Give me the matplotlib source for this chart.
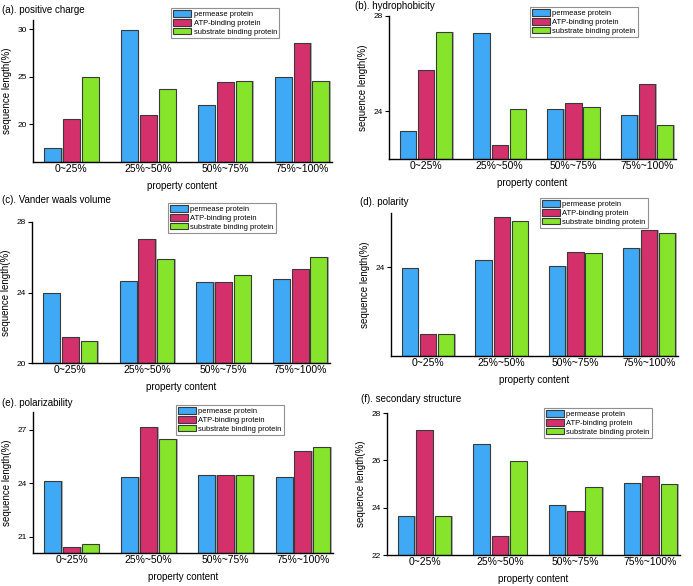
import numpy as np
import matplotlib
matplotlib.use('Agg')
import matplotlib.pyplot as plt

plt.rcParams['font.family'] = ['Liberation Sans', 'DejaVu Sans']

categories = ['0~25%', '25%~50%', '50%~75%', '75%~100%']
series_names = ['permease protein', 'ATP-binding protein', 'substrate binding protein']
colors = ['#3FA9F5', '#D4306C', '#86E52A']

titles = ['(a). positive charge', '(b). hydrophobicity', '(c). Vander waals volume',
          '(d). polarity', '(e). polarizability', '(f). secondary structure']

# values: [permease, ATP-binding, substrate binding] per category
positive_charge = [[17.45, 29.93, 22.03, 25.03],
                   [20.56, 21.0, 24.4, 28.57],
                   [25.0, 23.67, 24.6, 24.6]]
hydrophobicity = [[23.16, 27.3, 24.08, 23.86],
                  [25.74, 22.6, 24.35, 25.14],
                  [27.32, 24.11, 24.18, 23.43]]
vdw_volume = [[23.98, 24.66, 24.57, 24.78],
              [21.49, 27.05, 24.59, 25.33],
              [21.23, 25.9, 25.0, 25.99]]
polarity = [[23.98, 24.33, 24.05, 24.89],
            [20.99, 26.27, 24.69, 25.7],
            [20.99, 26.08, 24.63, 25.56]]
polarizability = [[24.13, 24.37, 24.46, 24.35],
                  [20.44, 27.17, 24.45, 25.84],
                  [20.59, 26.5, 24.48, 26.06]]
secondary = [[23.66, 26.7, 24.11, 25.04],
             [27.3, 22.8, 23.86, 25.35],
             [23.64, 25.97, 24.86, 24.98]]

all_data = [positive_charge, hydrophobicity, vdw_volume, polarity, polarizability, secondary]
ylims = [(16, 31), (22, 28), (20, 28), (20, 26.45), (20.1, 28), (22, 28)]
yticks = [[20, 25, 30], [24, 28], [20, 24, 28], [24], [21, 24, 27], [22, 24, 26, 28]]

W, H = 693, 586
# axes boxes in pixels: left, top, right, bottom
boxes = [(33, 20, 332, 162), (389, 16, 676, 159),
         (32, 222, 330, 363), (391, 213, 678, 356),
         (33, 412, 333, 553), (387, 413, 680, 555)]
title_pos = [(2, 10), (355, 6), (2, 200), (360, 202), (2, 403), (361, 399)]
legend_pos = [(171, 8), (530, 7), (168, 203), (540, 198), (176, 405), (544, 408)]

fig = plt.figure(figsize=(W / 100, H / 100), dpi=100)

x = np.arange(len(categories))
width = 0.22
step = 0.245

for i, data in enumerate(all_data):
    l, t, r, b = boxes[i]
    ax = fig.add_axes([l / W, 1 - b / H, (r - l) / W, (b - t) / H])
    for j in range(3):
        pos = x + (j - 1) * step
        # faint shadow to the right of each bar
        ax.bar(pos + 0.02, np.array(data[j]) - ylims[i][0], width, bottom=ylims[i][0],
               color='#b0b0b0', edgecolor='none', zorder=1)
        ax.bar(pos, np.array(data[j]) - ylims[i][0], width, bottom=ylims[i][0],
               color=colors[j], edgecolor='#3a3a3a', linewidth=0.8,
               label=series_names[j], zorder=2)
    ax.set_xlim(-0.5, 3.39)
    ax.set_ylim(*ylims[i])
    ax.set_yticks(yticks[i])
    ax.set_xticks(x)
    ax.set_xticklabels(categories, fontsize=7.5)
    ax.tick_params(axis='x', length=0, pad=1.5)
    ax.tick_params(axis='y', labelsize=6, length=3, width=0.8, pad=1.5)
    for s in ['top', 'right']:
        ax.spines[s].set_visible(False)
    ax.spines['left'].set_linewidth(1.0)
    ax.spines['bottom'].set_linewidth(1.0)
    ax.set_xlabel('property content', fontsize=7, labelpad=5)
    ax.set_ylabel('sequence length(%)', fontsize=7, labelpad=4)
    tx, ty = title_pos[i]
    fig.text(tx / W, 1 - ty / H, titles[i], fontsize=7, va='center', ha='left')
    lx, ly = legend_pos[i]
    leg = ax.legend(loc='upper left', bbox_to_anchor=(lx / W, 1 - ly / H),
                    bbox_transform=fig.transFigure, fontsize=5.4, frameon=True,
                    fancybox=False, edgecolor='#909090', framealpha=1,
                    handlelength=2.3, handleheight=1.0, labelspacing=0.1,
                    borderpad=0.3, handletextpad=0.4, borderaxespad=0)
    leg.get_frame().set_linewidth(0.8)

fig.savefig('out.png', dpi=100)
